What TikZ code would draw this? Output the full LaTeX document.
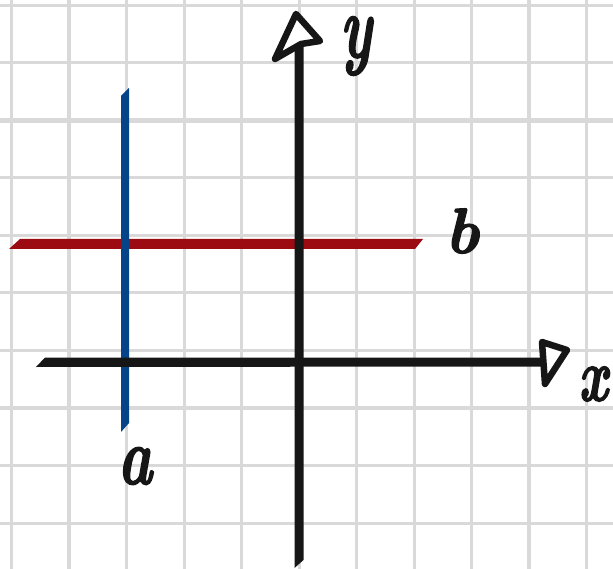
\documentclass[tikz,border=0pt]{standalone}
\usepackage{graphicx}
\usepackage{fontspec}
\newfontfamily\brushfont{lmroman10-bolditalic.otf}[FakeBold=2]
\definecolor{gridgray}{HTML}{D9D9D9}
\definecolor{axisblack}{HTML}{161616}
\definecolor{linered}{HTML}{9C0A12}
\definecolor{lineblue}{HTML}{064489}
\tikzset{
  gridline/.style={draw=gridgray, line width=3pt},
  gridthick/.style={draw=gridgray, line width=4.5pt},
  arrowbrush/.style={draw=axisblack, fill=white, line width=6.5pt, line join=round},
  letter/.style={inner sep=0pt, text=axisblack}
}
\begin{document}
\begin{tikzpicture}[x=1pt,y=-1pt]
\useasboundingbox[fill=white] (0,0) rectangle (613,569);
% grid
\foreach \k in {0,...,10} {
  \draw[gridline] ({11.5+57.5*\k},0) -- ({11.5+57.5*\k},569);
}
\foreach \k in {0,...,9} {
  \draw[gridline] (0,{5.5+57.5*\k}) -- (613,{5.5+57.5*\k});
}
\draw[gridthick] (69,0) -- (69,569);
\draw[gridthick] (529,0) -- (529,569);
\draw[gridthick] (0,120.5) -- (613,120.5);
\draw[gridthick] (0,408) -- (613,408);
% red line b
\fill[linered] (9,249) -- (20,239) -- (423,239) -- (415,249) -- cycle;
% blue line a
\fill[lineblue] (121,96) -- (129,88) -- (129,423) -- (121,432) -- cycle;
% x axis
\fill[axisblack] (36,367) -- (45,357.5) -- (543,357.5) -- (543,366.5) -- cycle;
% y axis
\fill[axisblack] (294.5,568) -- (294.5,30) -- (303.5,30) -- (303.5,560) -- cycle;
% arrowheads
\draw[arrowbrush] (296,14) -- (275,59) -- (301,44) -- (320,41) -- cycle;
\draw[arrowbrush] (542,342) -- (567,350) -- (545,384) -- cycle;
% labels
\node[letter, font=\fontsize{62}{62}\selectfont\brushfont] (ly) at (356,46) {\scalebox{0.9}[1.45]{y}};
\node[letter, font=\fontsize{64}{64}\selectfont\brushfont] (lb) at (462,231) {b};
\node[letter, font=\fontsize{58}{58}\selectfont\brushfont] (la) at (135,466) {\scalebox{1}[1.4]{a}};
\node[letter, font=\fontsize{52}{52}\selectfont\brushfont] (lx) at (593,384) {\scalebox{1}[1.45]{x}};
\end{tikzpicture}
\end{document}
